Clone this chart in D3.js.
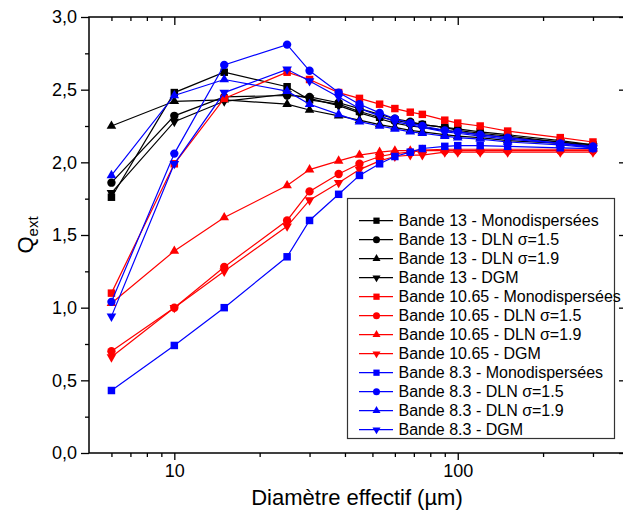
<!DOCTYPE html>
<html><head><meta charset="utf-8">
<script src="https://cdn.jsdelivr.net/npm/d3@7"></script>
<style>body{margin:0;background:#fff}svg{display:block}text{font-family:Arial,"Liberation Sans",sans-serif;fill:#000}</style>
</head><body><svg id="c" width="623" height="512"></svg>
<script>
// ---- data ----
const diam = [6, 10, 15, 25, 30, 38, 45, 53, 60, 68, 75, 90, 100, 120, 150, 230, 300];

const b13Mono  = [1.76, 2.48, 2.62, 2.52, 2.43, 2.40, 2.35, 2.31, 2.29, 2.27, 2.26, 2.24, 2.23, 2.21, 2.19, 2.15, 2.12];
const b13Dln15 = [1.86, 2.32, 2.45, 2.46, 2.45, 2.41, 2.37, 2.33, 2.30, 2.28, 2.26, 2.24, 2.22, 2.20, 2.18, 2.14, 2.12];
const b13Dln19 = [2.25, 2.42, 2.43, 2.40, 2.36, 2.32, 2.29, 2.26, 2.24, 2.22, 2.21, 2.19, 2.18, 2.17, 2.15, 2.13, 2.11];
const b13Dgm   = [1.79, 2.28, 2.42, 2.47, 2.44, 2.39, 2.34, 2.30, 2.27, 2.25, 2.24, 2.22, 2.21, 2.19, 2.17, 2.14, 2.11];

const b1065Mono  = [1.10, 1.99, 2.44, 2.62, 2.57, 2.48, 2.44, 2.40, 2.37, 2.345, 2.33, 2.29, 2.27, 2.25, 2.215, 2.17, 2.14];
const b1065Dln15 = [0.70, 1.00, 1.28, 1.60, 1.80, 1.92, 1.99, 2.04, 2.06, 2.07, 2.08, 2.08, 2.08, 2.08, 2.08, 2.08, 2.08];
const b1065Dln19 = [1.03, 1.39, 1.62, 1.84, 1.95, 2.01, 2.05, 2.07, 2.08, 2.08, 2.085, 2.09, 2.09, 2.09, 2.09, 2.09, 2.09];
const b1065Dgm   = [0.66, 1.00, 1.25, 1.56, 1.74, 1.86, 1.95, 2.01, 2.04, 2.05, 2.05, 2.07, 2.07, 2.07, 2.07, 2.07, 2.07];

const b83Mono  = [0.43, 0.74, 1.00, 1.35, 1.60, 1.78, 1.91, 1.99, 2.04, 2.07, 2.095, 2.11, 2.115, 2.115, 2.11, 2.10, 2.095];
const b83Dln15 = [1.04, 2.06, 2.67, 2.81, 2.63, 2.48, 2.40, 2.34, 2.30, 2.27, 2.25, 2.22, 2.21, 2.19, 2.17, 2.13, 2.11];
const b83Dln19 = [1.91, 2.46, 2.57, 2.49, 2.40, 2.33, 2.28, 2.25, 2.23, 2.21, 2.20, 2.18, 2.17, 2.16, 2.14, 2.12, 2.10];
const b83Dgm   = [0.94, 1.99, 2.48, 2.64, 2.56, 2.45, 2.37, 2.32, 2.28, 2.26, 2.24, 2.21, 2.20, 2.18, 2.16, 2.13, 2.10];

const legendLabels = [
  "Bande 13 - Monodispersées", "Bande 13 - DLN σ=1.5", "Bande 13 - DLN σ=1.9", "Bande 13 - DGM",
  "Bande 10.65 - Monodispersées", "Bande 10.65 - DLN σ=1.5", "Bande 10.65 - DLN σ=1.9", "Bande 10.65 - DGM",
  "Bande 8.3 - Monodispersées", "Bande 8.3 - DLN σ=1.5", "Bande 8.3 - DLN σ=1.9", "Bande 8.3 - DGM"
];
const seriesValues = [b13Mono, b13Dln15, b13Dln19, b13Dgm, b1065Mono, b1065Dln15, b1065Dln19, b1065Dgm, b83Mono, b83Dln15, b83Dln19, b83Dgm];
const seriesColors = ["#000000","#000000","#000000","#000000","#ff0000","#ff0000","#ff0000","#ff0000","#0000ff","#0000ff","#0000ff","#0000ff"];
const seriesShapes = ["square","circle","up","down","square","circle","up","down","square","circle","up","down"];

const yMajorTicks = [0, 0.5, 1, 1.5, 2, 2.5, 3];
const yTickLabels = ["0,0", "0,5", "1,0", "1,5", "2,0", "2,5", "3,0"];
const yMinorTicks = [0.25, 0.75, 1.25, 1.75, 2.25, 2.75];
const xMajorTicks = [10, 100];
const xTickLabels = ["10", "100"];
const xMinorTicks = [6, 7, 8, 9, 20, 30, 40, 50, 60, 70, 80, 90, 200, 300];

// ---- layout ----
const L = 89, R = 624, T = 17, B = 453;
const svg = d3.select("#c");
const x = d3.scaleLog().domain([5, 386]).range([L, R]);
const y = d3.scaleLinear().domain([0, 3]).range([B, T]);

function symPath(shape, scale) {
  const s = scale || 1;
  if (shape === "square") return d3.symbol(d3.symbolSquare, 56 * s)();
  if (shape === "circle") return d3.symbol(d3.symbolCircle, 55 * s)();
  return d3.symbol(d3.symbolTriangle, 40 * s)();
}

function cleanAxis(g) { g.select(".domain").remove(); g.selectAll("line").attr("stroke", "#000").attr("stroke-width", 1.3); }

// bottom
svg.append("g").attr("transform", `translate(0,${B})`)
  .call(d3.axisBottom(x).tickValues(xMajorTicks).tickSize(7).tickFormat((d, i) => xTickLabels[i]).tickPadding(4))
  .call(cleanAxis).call(g => g.selectAll("text").attr("font-size", 18).attr("font-family", "Arial, 'Liberation Sans', sans-serif"));
svg.append("g").attr("transform", `translate(0,${B})`)
  .call(d3.axisBottom(x).tickValues(xMinorTicks).tickSize(4).tickFormat(""))
  .call(cleanAxis);
// top (inward)
svg.append("g").attr("transform", `translate(0,${T})`)
  .call(d3.axisBottom(x).tickValues(xMajorTicks).tickSize(8).tickFormat(""))
  .call(cleanAxis);
svg.append("g").attr("transform", `translate(0,${T})`)
  .call(d3.axisBottom(x).tickValues(xMinorTicks).tickSize(4).tickFormat(""))
  .call(cleanAxis);
// left
svg.append("g").attr("transform", `translate(${L},0)`)
  .call(d3.axisLeft(y).tickValues(yMajorTicks).tickSize(8).tickFormat((d, i) => yTickLabels[i]).tickPadding(4))
  .call(cleanAxis).call(g => g.selectAll("text").attr("font-size", 18).attr("font-family", "Arial, 'Liberation Sans', sans-serif"));
svg.append("g").attr("transform", `translate(${L},0)`)
  .call(d3.axisLeft(y).tickValues(yMinorTicks).tickSize(4).tickFormat(""))
  .call(cleanAxis);
// right (inward)
svg.append("g").attr("transform", `translate(${R},0)`)
  .call(d3.axisLeft(y).tickValues(yMajorTicks).tickSize(5).tickFormat(""))
  .call(cleanAxis);

// frame
svg.append("rect").attr("x", L).attr("y", T).attr("width", R - L).attr("height", B - T)
  .attr("fill", "none").attr("stroke", "#000").attr("stroke-width", 1.5);

// series
const line = d3.line().x(d => x(d[0])).y(d => y(d[1]));
seriesValues.forEach((vals, k) => {
  const pts = diam.map((d, i) => [d, vals[i]]);
  const g = svg.append("g");
  g.append("path").datum(pts).attr("d", line).attr("fill", "none")
    .attr("stroke", seriesColors[k]).attr("stroke-width", 1.2);
  g.selectAll("path.m").data(pts).enter().append("path").attr("class", "m")
    .attr("d", symPath(seriesShapes[k]))
    .attr("transform", d => `translate(${x(d[0])},${y(d[1])})` + (seriesShapes[k] === "down" ? " rotate(180)" : ""))
    .attr("fill", seriesColors[k]);
});

// legend
const lg = svg.append("g");
lg.append("rect").attr("x", 347.5).attr("y", 198.5).attr("width", 267).attr("height", 240)
  .attr("fill", "#fff").attr("stroke", "#333").attr("stroke-width", 1.2);
legendLabels.forEach((lab, i) => {
  const cy = 220.7 + i * 19;
  lg.append("line").attr("x1", 359).attr("x2", 393).attr("y1", cy).attr("y2", cy)
    .attr("stroke", seriesColors[i]).attr("stroke-width", 1.2);
  lg.append("path").attr("d", symPath(seriesShapes[i], 0.7))
    .attr("transform", `translate(376.5,${cy})` + (seriesShapes[i] === "down" ? " rotate(180)" : ""))
    .attr("fill", seriesColors[i]);
  lg.append("text").attr("x", 398.5).attr("y", cy + 5.5).attr("font-size", 16).text(lab);
});

// axis titles
svg.append("text").attr("x", 357).attr("y", 505).attr("text-anchor", "middle").attr("font-size", 22)
  .text("Diamètre effectif (µm)");
const yt = svg.append("text").attr("transform", "translate(33,235) rotate(-90)").attr("text-anchor", "middle").attr("font-size", 22);
yt.append("tspan").text("Q");
yt.append("tspan").attr("font-size", 15).attr("dy", 5).text("ext");
</script>
</body></html>
